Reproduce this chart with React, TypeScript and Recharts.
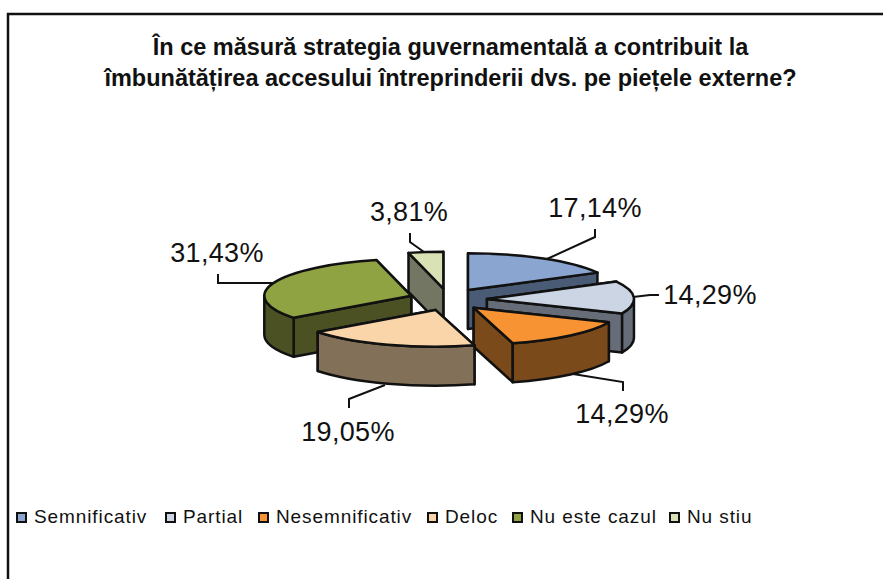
import React from 'react';
import { PieChart, Pie, Legend } from 'recharts';

const categories = ['Semnificativ', 'Partial', 'Nesemnificativ', 'Deloc', 'Nu este cazul', 'Nu stiu'];
const shares = [17.14, 14.29, 14.29, 19.05, 31.43, 3.81];
const topColors = ['#8AA5CF', '#CBD5E4', '#F79332', '#FAD5AA', '#8FA343', '#D8E2B5'];
const sideColors = ['#4A5B75', '#666C78', '#7A4A1B', '#827058', '#4C5124', '#737662'];

// slices overlap, so they are painted back to front and not in data order
const paintOrder = [5, 0, 4, 1, 2, 3];

// label text anchor and leader line for each slice
const labelAnchors = [
  [595, 217], [710, 304], [622, 423], [348, 441], [217, 262], [409, 221],
];
const leaderLines = [
  '547,259 595,237 595,229',
  '633,297 650,295 659,295',
  '573,374 623,382 623,391',
  '385,385 349,399 349,408',
  '273,283 218,283 218,274',
  '424,252 410,242 410,233',
];
const legendLefts = [16, 165, 258, 427, 512, 669];

const chartData = categories.map((name, i) => ({ name, value: shares[i] }));

const WIDTH = 883;
const HEIGHT = 579;
const CX = 448;
const CY = 299.5;
const RX = 147;
const TILT = 0.25;
const DEPTH = 39;
const EXPLODE_X = 39;
const EXPLODE_Y = 11;
const INK = '#111';
const FONT = '"Liberation Sans", Arial, sans-serif';

const Slice = ({ cx, cy, outerRadius, startAngle, endAngle, index }: any) => {
  const rx = outerRadius;
  const ry = outerRadius * TILT;
  const mid = ((startAngle + endAngle) / 2) * (Math.PI / 180);
  const ax = cx + EXPLODE_X * Math.cos(mid);
  const ay = cy - EXPLODE_Y * Math.sin(mid);
  const at = (deg: number) => {
    const r = deg * (Math.PI / 180);
    return [ax + rx * Math.cos(r), ay - ry * Math.sin(r)];
  };
  const [sx, sy] = at(startAngle);
  const [ex, ey] = at(endAngle);
  const large = startAngle - endAngle > 180 ? 1 : 0;

  const face = (x: number, y: number) =>
    `M${ax},${ay} L${x},${y} L${x},${y + DEPTH} L${ax},${ay + DEPTH} Z`;
  const faces = sy < ey ? [face(sx, sy), face(ex, ey)] : [face(ex, ey), face(sx, sy)];

  // outer wall only shows on the front half of the ellipse
  const wallFrom = Math.min(startAngle, 0);
  const wallTo = Math.max(endAngle, -180);
  let wall = '';
  if (wallFrom > wallTo) {
    const [wx0, wy0] = at(wallFrom);
    const [wx1, wy1] = at(wallTo);
    wall = `M${wx0},${wy0} A${rx},${ry} 0 0 1 ${wx1},${wy1} L${wx1},${wy1 + DEPTH} A${rx},${ry} 0 0 0 ${wx0},${wy0 + DEPTH} Z`;
  }

  const common = { stroke: INK, strokeWidth: 2.5, strokeLinejoin: 'round' as const };
  return (
    <g>
      {faces.map((d, k) => <path key={k} d={d} fill={sideColors[index]} {...common} />)}
      {wall && <path d={wall} fill={sideColors[index]} {...common} />}
      <path
        d={`M${ax},${ay} L${sx},${sy} A${rx},${ry} 0 ${large} 1 ${ex},${ey} Z`}
        fill={topColors[index]}
        {...common}
      />
    </g>
  );
};

const renderLabel = ({ index, value }: any) => (
  <g key={index}>
    <polyline points={leaderLines[index]} fill="none" stroke={INK} strokeWidth={2} />
    <text
      x={labelAnchors[index][0]}
      y={labelAnchors[index][1]}
      textAnchor="middle"
      fontFamily={FONT}
      fontSize={27}
      letterSpacing={0.3}
      fill={INK}
    >
      {value.toFixed(2).replace('.', ',')}%
    </text>
  </g>
);

const renderLegend = () => (
  <div style={{ position: 'relative', height: 22, fontFamily: FONT, fontSize: 19, color: INK, letterSpacing: 0.9, lineHeight: '22px', whiteSpace: 'nowrap' }}>
    {categories.map((name, i) => (
      <span key={name} style={{ position: 'absolute', left: legendLefts[i], top: 0, display: 'flex', alignItems: 'center' }}>
        <span style={{ width: 7, height: 7, background: topColors[i], border: `2px solid ${INK}`, marginRight: 7 }} />
        {name}
      </span>
    ))}
  </div>
);

export default function App() {
  return (
    <div style={{ position: 'absolute', left: 0, top: 0, width: WIDTH, height: HEIGHT, background: '#fff' }}>
      <svg width={WIDTH} height={HEIGHT} style={{ position: 'absolute', left: 0, top: 0 }}>
        <path d={`M8,${HEIGHT} L8,14 L${WIDTH},14`} fill="none" stroke={INK} strokeWidth={2.5} />
        <g fontFamily={FONT} fontWeight="bold" fontSize={23.5} fill={INK} textAnchor="middle">
          <text x={450.5} y={55}>În ce măsură strategia guvernamentală a contribuit la</text>
          <text x={450.5} y={86}>îmbunătățirea accesului întreprinderii dvs. pe piețele externe?</text>
        </g>
      </svg>
      <div style={{ position: 'absolute', left: 0, top: 0 }}>
        <PieChart width={WIDTH} height={HEIGHT} margin={{ top: 0, right: 0, bottom: 0, left: 0 }}>
          {paintOrder.map((slice, n) => (
            <Pie
              key={slice}
              data={chartData}
              dataKey="value"
              nameKey="name"
              cx={CX}
              cy={CY}
              outerRadius={RX}
              startAngle={90}
              endAngle={-270}
              isAnimationActive={false}
              shape={(props: any) => (props.index === slice ? <Slice {...props} /> : <g />)}
              label={n === paintOrder.length - 1 ? renderLabel : false}
              labelLine={false}
            />
          ))}
          <Legend
            content={renderLegend}
            wrapperStyle={{ position: 'absolute', left: 0, top: 506, width: WIDTH }}
          />
        </PieChart>
      </div>
    </div>
  );
}
